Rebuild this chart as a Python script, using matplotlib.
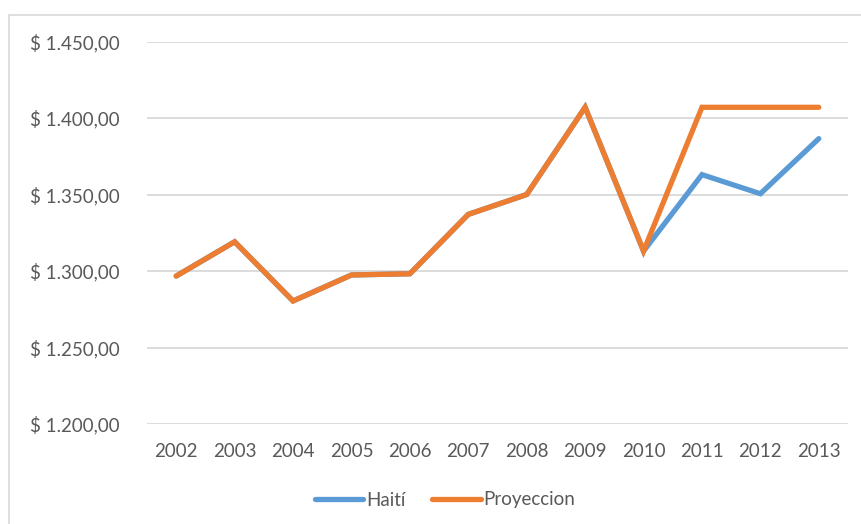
import matplotlib.pyplot as plt
from matplotlib.patches import Rectangle
from matplotlib.ticker import FuncFormatter

years = ['2002', '2003', '2004', '2005', '2006', '2007',
         '2008', '2009', '2010', '2011', '2012', '2013']
haiti = [1296.7, 1319.1, 1280.4, 1297.4, 1298.2, 1337.0,
         1350.0, 1407.0, 1313.0, 1363.0, 1350.5, 1386.5]
proyeccion = [1296.7, 1319.1, 1280.4, 1297.4, 1298.2, 1337.0,
              1350.0, 1407.0, 1313.0, 1407.0, 1407.0, 1407.0]
yticks = [1200, 1250, 1300, 1350, 1400, 1450]

plt.rcParams['font.family'] = ['Lato', 'DejaVu Sans']
txt = '#595959'

W, H = 861, 524
fig = plt.figure(figsize=(W / 100, H / 100), dpi=100)
ax = fig.add_axes([147 / W, (H - 424) / H, (848 - 147) / W, (424 - 41.5) / H])

# chart area frame (only top and left edges show in the crop)
fig.patches.append(Rectangle((8.5 / W, -0.1), 2, (H - 14.5) / H + 0.1,
                             transform=fig.transFigure, fill=False,
                             edgecolor='#d9d9d9', linewidth=1.2))

x = range(len(years))
ax.plot(x, haiti, color='#5B9BD5', linewidth=3.8, solid_capstyle='round',
        solid_joinstyle='miter', label='Haití', zorder=3)
ax.plot(x, proyeccion, color='#ED7D31', linewidth=3.8, solid_capstyle='round',
        solid_joinstyle='miter', label='Proyeccion', zorder=4)

ax.set_xlim(-0.5, len(years) - 0.5)
ax.set_ylim(1200, 1450)
ax.set_xticks(list(x))
ax.set_xticklabels(years)
ax.set_yticks(yticks)

def money(v, pos):
    s = f'{v:,.2f}'.replace(',', 'X').replace('.', ',').replace('X', '.')
    return '$ ' + s

ax.yaxis.set_major_formatter(FuncFormatter(money))
ax.grid(axis='y', color='#d9d9d9', linewidth=1.3, zorder=0)
ax.set_axisbelow(True)
for sp in ax.spines.values():
    sp.set_visible(False)
ax.tick_params(length=0, colors=txt, labelsize=13.5)
ax.tick_params(axis='y', pad=19.5)
ax.tick_params(axis='x', pad=14)

leg = fig.legend(loc='center', bbox_to_anchor=(445 / W, (H - 500) / H), ncol=2,
                 frameon=False, fontsize=13.5, handlelength=2.6,
                 handletextpad=0.15, columnspacing=1.4, labelcolor=txt)

fig.savefig('out.png', dpi=100, facecolor='white')
